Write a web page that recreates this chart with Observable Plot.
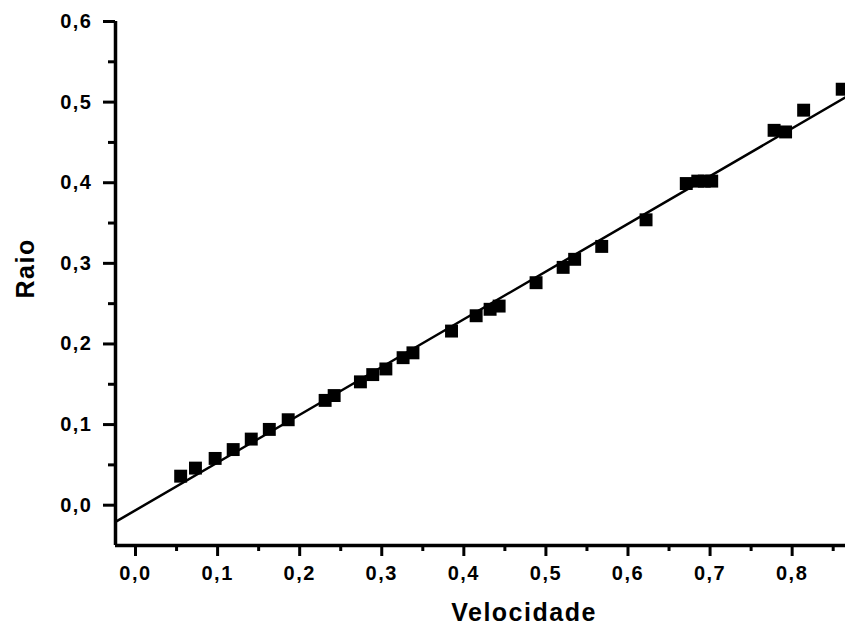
<!DOCTYPE html>
<html><head><meta charset="utf-8">
<script src="https://cdn.jsdelivr.net/npm/d3@7"></script>
<script src="https://cdn.jsdelivr.net/npm/@observablehq/plot@0.6"></script>
<style>body{margin:0;background:#fff}</style>
</head><body><div id="chart"></div>
<script>
// Data
const velocidade = [0.055,0.073,0.097,0.119,0.141,0.163,0.186,0.231,0.242,0.274,0.289,0.305,0.326,0.338,0.385,0.415,0.432,0.443,0.488,0.521,0.535,0.568,0.622,0.671,0.685,0.693,0.702,0.778,0.792,0.814,0.861];
const raio = [0.036,0.046,0.058,0.069,0.082,0.094,0.106,0.130,0.136,0.153,0.162,0.169,0.183,0.189,0.216,0.235,0.243,0.247,0.276,0.295,0.305,0.321,0.354,0.399,0.402,0.402,0.402,0.465,0.463,0.490,0.516];
// Linear fit line endpoints
const fitV = [-0.0244, 0.865];
const fitR = [-0.0207, 0.506];
// Axes
const xDomain = [-0.0244, 0.865];
const yDomain = [-0.05, 0.6];
const xMajor = [0,0.1,0.2,0.3,0.4,0.5,0.6,0.7,0.8];
const xMinor = [0.05,0.15,0.25,0.35,0.45,0.55,0.65,0.75,0.85];
const yMajor = [0,0.1,0.2,0.3,0.4,0.5,0.6];
const yMinor = [0.05,0.15,0.25,0.35,0.45,0.55];
const xTitle = "Velocidade";
const yTitle = "Raio";

const points = velocidade.map((v, i) => ({v, r: raio[i]}));
const fit = fitV.map((v, i) => ({v, r: fitR[i]}));
const fmt = d => d3.format(".1f")(d).replace(".", ",");

const chart = Plot.plot({
  width: 845, height: 630,
  marginLeft: 115, marginRight: 0, marginTop: 21, marginBottom: 85,
  x: {domain: xDomain},
  y: {domain: yDomain},
  style: {background: "#fff", color: "#000", fontFamily: "'Liberation Sans', Arial, sans-serif",
          fontWeight: "bold", fontSize: "20px", letterSpacing: "1.5px", overflow: "hidden"},
  marks: [
    Plot.axisX({ticks: xMinor, tickSize: 6, tickFormat: () => "", label: null, strokeWidth: 3}),
    Plot.axisX({ticks: xMajor, tickSize: 11, tickPadding: 9, tickFormat: fmt, label: null, strokeWidth: 3, fontSize: 20, fontWeight: "bold"}),
    Plot.axisY({ticks: yMinor, tickSize: 7, tickFormat: () => "", label: null, strokeWidth: 3}),
    Plot.axisY({ticks: yMajor, tickSize: 12, tickPadding: 11, tickFormat: fmt, label: null, strokeWidth: 3, fontSize: 20, fontWeight: "bold"}),
    Plot.ruleY([yDomain[0]], {strokeWidth: 3.5}),
    Plot.ruleX([xDomain[0]], {strokeWidth: 3.5, y1: yDomain[0], y2: yDomain[1]}),
    Plot.line(fit, {x: "v", y: "r", stroke: "#000", strokeWidth: 2.5}),
    Plot.dot(points, {x: "v", y: "r", symbol: "square", r: 7.3, fill: "#000", stroke: "none"}),
    Plot.text([xTitle], {text: d => d, frameAnchor: "bottom", dx: 43.5, dy: 67.5, lineAnchor: "middle", fontSize: 25, fontWeight: "bold"}),
    Plot.text([yTitle], {text: d => d, frameAnchor: "left", rotate: -90, dx: -89.5, dy: 15, lineAnchor: "middle", fontSize: 25, fontWeight: "bold"})
  ]
});
document.getElementById("chart").append(chart);
</script>
</body></html>
